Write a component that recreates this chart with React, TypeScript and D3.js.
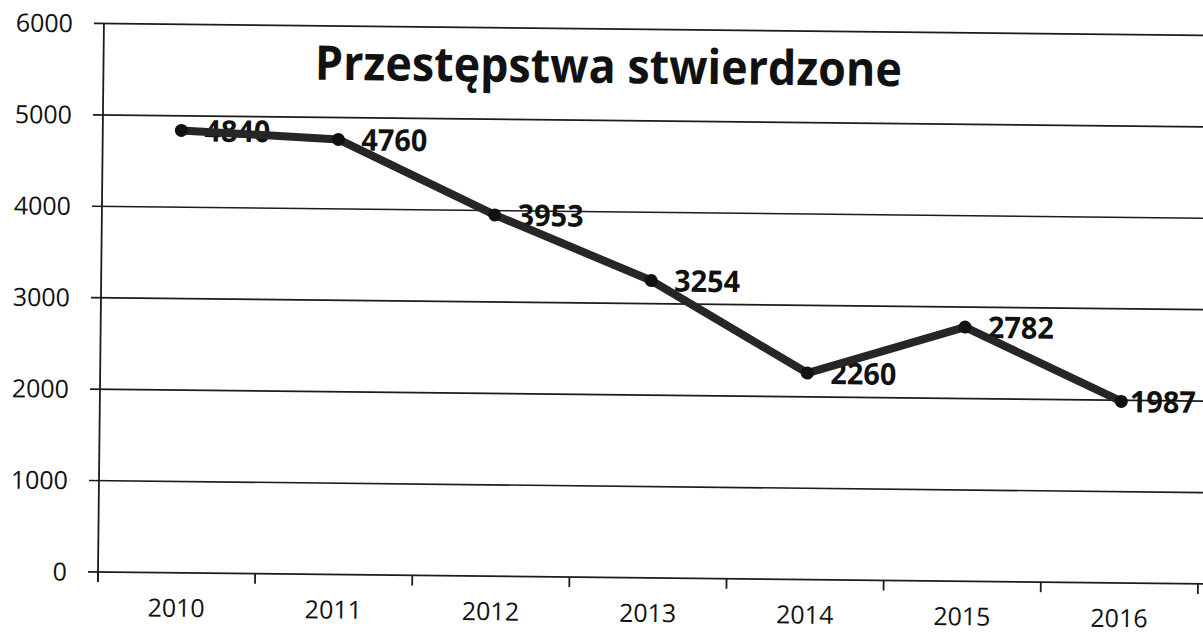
import React from "react";
import * as d3 from "d3";

const categories = ["2010", "2011", "2012", "2013", "2014", "2015", "2016"];
const values = [4840, 4760, 3953, 3254, 2260, 2782, 1987];
const yTicks = [0, 1000, 2000, 3000, 4000, 5000, 6000];
const title = "Przestępstwa stwierdzone";

const W = 1203;
const H = 634;
const left = 98;
const bottom = 572;
const plotW = 1100;
const plotH = 548.5;
const angle = 0.62;

export default function App() {
  const x = d3.scaleBand<string>().domain(categories).range([0, plotW]).padding(0);
  const y = d3.scaleLinear().domain([0, 6000]).range([plotH, 0]);
  const cx = (c: string) => (x(c) as number) + x.bandwidth() / 2;
  const pts: [number, number][] = categories.map((c, i) => [cx(c), y(values[i])]);
  const line = d3.line<[number, number]>().x((d) => d[0]).y((d) => d[1]);
  const top = bottom - plotH;
  const boundaries = d3.range(categories.length + 1).map((i) => i * x.step());

  return (
    <div style={{ position: "fixed", left: 0, top: 0, width: W, height: H, background: "#fff" }}>
      <svg width={W} height={H} style={{ display: "block" }}>
        <rect width={W} height={H} fill="#fff" />
        <g transform={`rotate(${angle}, ${left}, ${bottom})`}>
          <g transform={`translate(${left}, ${top})`}>
            {yTicks.map((t) => (
              <g key={t}>
                <line x1={-10} x2={plotW + 8} y1={y(t)} y2={y(t)} stroke="#1c1c1c" strokeWidth={1.7} />
                <text
                  x={-31}
                  y={y(t)}
                  dy="0.36em"
                  textAnchor="end"
                  fontFamily="'Open Sans', sans-serif"
                  fontSize={25}
                  fill="#111"
                >
                  {t}
                </text>
              </g>
            ))}
            <line x1={0} x2={0} y1={0} y2={plotH + 10} stroke="#1c1c1c" strokeWidth={1.8} />
            {boundaries.map((b, i) => (
              <line key={i} x1={b} x2={b} y1={plotH} y2={plotH + 10} stroke="#1c1c1c" strokeWidth={1.8} />
            ))}
            {categories.map((c) => (
              <text
                key={c}
                x={cx(c)}
                y={plotH + 44}
                textAnchor="middle"
                fontFamily="'Open Sans', sans-serif"
                fontSize={25}
                fill="#111"
              >
                {c}
              </text>
            ))}
            {categories.map((c, i) => (
              <text
                key={"l" + c}
                x={Math.min(pts[i][0] + 23, plotW - 70)}
                y={pts[i][1]}
                dy="0.36em"
                fontFamily="'Open Sans', sans-serif"
                fontWeight={700}
                fontSize={30}
                textLength={66}
                lengthAdjust="spacingAndGlyphs"
                fill="#111"
              >
                {values[i]}
              </text>
            ))}
            <path d={line(pts) || ""} fill="none" stroke="#262626" strokeWidth={8} strokeLinejoin="round" />
            {pts.map((p, i) => (
              <circle key={i} cx={p[0]} cy={p[1]} r={6.5} fill="#111" />
            ))}
            <text
              x={505}
              y={77.5 - top}
              textAnchor="middle"
              fontFamily="'Liberation Sans Narrow', 'Open Sans', sans-serif"
              fontWeight={700}
              fontSize={48}
              textLength={587}
              lengthAdjust="spacingAndGlyphs"
              fill="#111"
            >
              {title}
            </text>
          </g>
        </g>
      </svg>
    </div>
  );
}
